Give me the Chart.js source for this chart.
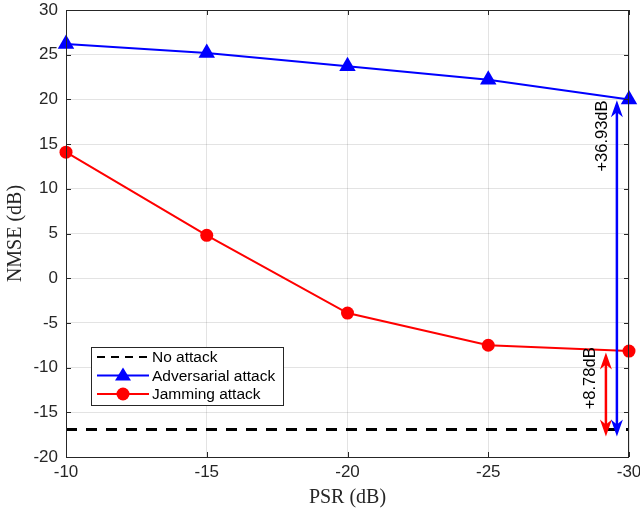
<!DOCTYPE html>
<html>
<head>
<meta charset="utf-8">
<script src="https://cdn.jsdelivr.net/npm/chart.js@4.4.1/dist/chart.umd.min.js"></script>
<style>
  html, body { margin: 0; padding: 0; background: #fff; }
  #wrap { width: 640px; height: 514px; }
</style>
</head>
<body>
<div id="wrap"><canvas id="nmseChart" width="640" height="514"></canvas></div>
<script>
// PSR values (dB) on the x axis
const psr = [-10, -15, -20, -25, -30];
const adversarial = [26.2, 25.2, 23.7, 22.2, 20.0];
const jamming = [14.1, 4.8, -3.9, -7.5, -8.15];
const noAttack = -16.93;

// gap arrows: [x, yTop, yBottom]
const blueGap = [-29.57, 19.9, -17.7];
const redGap = [-29.18, -8.3, -17.7];
// gap labels: [x, y, text]
const blueLabel = [-29.05, 15.9, '+36.93dB'];
const redLabel = [-28.62, -11.2, '+8.78dB'];

const axisColor = '#262626';
const sans = "'Liberation Sans', Arial, sans-serif";
const serif = "'Liberation Serif', 'Times New Roman', serif";

function arrowHead(ctx, x, y, dir, color) {
  // dir = -1 pointing up, 1 pointing down
  ctx.save();
  ctx.fillStyle = color;
  ctx.beginPath();
  ctx.moveTo(x, y);
  ctx.lineTo(x - 6, y - dir * 17);
  ctx.lineTo(x, y - dir * 12);
  ctx.lineTo(x + 6, y - dir * 17);
  ctx.closePath();
  ctx.fill();
  ctx.restore();
}

function doubleArrow(ctx, xs, ys, gap, color) {
  const x = xs.getPixelForValue(gap[0]);
  const y1 = ys.getPixelForValue(gap[1]);
  const y2 = ys.getPixelForValue(gap[2]);
  ctx.save();
  ctx.strokeStyle = color;
  ctx.lineWidth = 2.5;
  ctx.beginPath();
  ctx.moveTo(x, y1 + 10);
  ctx.lineTo(x, y2 - 10);
  ctx.stroke();
  ctx.restore();
  arrowHead(ctx, x, y1, -1, color);
  arrowHead(ctx, x, y2, 1, color);
}

function rotLabel(ctx, xs, ys, lab) {
  ctx.save();
  ctx.translate(xs.getPixelForValue(lab[0]), ys.getPixelForValue(lab[1]));
  ctx.rotate(-Math.PI / 2);
  ctx.font = '16.5px ' + sans;
  ctx.fillStyle = '#000';
  ctx.textAlign = 'center';
  ctx.textBaseline = 'middle';
  ctx.fillText(lab[2], 0, 0);
  ctx.restore();
}

const extras = {
  id: 'extras',
  afterDatasetsDraw(chart) {
    const ctx = chart.ctx;
    const xs = chart.scales.x, ys = chart.scales.y;
    const a = chart.chartArea;

    doubleArrow(ctx, xs, ys, redGap, '#ff0000');
    doubleArrow(ctx, xs, ys, blueGap, '#0000ff');
    rotLabel(ctx, xs, ys, blueLabel);
    rotLabel(ctx, xs, ys, redLabel);

    // box + inward ticks
    ctx.save();
    ctx.strokeStyle = axisColor;
    ctx.lineWidth = 1;
    ctx.strokeRect(a.left + 0.5, a.top + 0.5, a.right - a.left - 1, a.bottom - a.top);
    ctx.beginPath();
    xs.ticks.forEach(t => {
      const px = Math.round(xs.getPixelForValue(t.value)) + 0.5;
      ctx.moveTo(px, a.bottom); ctx.lineTo(px, a.bottom - 5);
      ctx.moveTo(px, a.top); ctx.lineTo(px, a.top + 5);
    });
    ys.ticks.forEach(t => {
      const py = Math.round(ys.getPixelForValue(t.value)) + 0.5;
      ctx.moveTo(a.left, py); ctx.lineTo(a.left + 5, py);
      ctx.moveTo(a.right, py); ctx.lineTo(a.right - 5, py);
    });
    ctx.stroke();
    ctx.restore();

    // legend
    const lx = a.left + 25, ly = a.top + 337, lw = 192, lh = 58;
    ctx.save();
    ctx.fillStyle = '#fff';
    ctx.fillRect(lx, ly, lw, lh);
    ctx.strokeStyle = axisColor;
    ctx.lineWidth = 1;
    ctx.strokeRect(lx + 0.5, ly + 0.5, lw, lh);
    const rows = [
      { text: 'No attack', color: '#000', dash: [8, 6], mark: null },
      { text: 'Adversarial attack', color: '#0000ff', dash: [], mark: 'tri' },
      { text: 'Jamming attack', color: '#ff0000', dash: [], mark: 'dot' }
    ];
    rows.forEach((r, i) => {
      const y = ly + 10 + i * 18.5;
      ctx.strokeStyle = r.color;
      ctx.lineWidth = 2;
      ctx.setLineDash(r.dash);
      ctx.beginPath();
      ctx.moveTo(lx + 6, y); ctx.lineTo(lx + 58, y);
      ctx.stroke();
      ctx.setLineDash([]);
      ctx.fillStyle = r.color;
      const cx = lx + 32;
      if (r.mark === 'tri') {
        ctx.beginPath();
        ctx.moveTo(cx, y - 8); ctx.lineTo(cx + 8, y + 5); ctx.lineTo(cx - 8, y + 5);
        ctx.closePath(); ctx.fill();
      } else if (r.mark === 'dot') {
        ctx.beginPath(); ctx.arc(cx, y, 6.5, 0, Math.PI * 2); ctx.fill();
      }
      ctx.fillStyle = '#000';
      ctx.font = '15.5px ' + sans;
      ctx.textBaseline = 'middle';
      ctx.textAlign = 'left';
      ctx.fillText(r.text, lx + 61, y + 1);
    });
    ctx.restore();
  }
};

new Chart(document.getElementById('nmseChart'), {
  type: 'line',
  data: {
    datasets: [
      {
        label: 'No attack',
        data: [{ x: -10, y: noAttack }, { x: -30, y: noAttack }],
        borderColor: '#000',
        borderWidth: 3,
        borderDash: [11, 9],
        pointRadius: 0
      },
      {
        label: 'Adversarial attack',
        data: psr.map((x, i) => ({ x: x, y: adversarial[i] })),
        borderColor: '#0000ff',
        backgroundColor: '#0000ff',
        borderWidth: 2,
        pointStyle: 'triangle',
        pointRadius: 9.5,
        pointBorderWidth: 0,
        clip: false
      },
      {
        label: 'Jamming attack',
        data: psr.map((x, i) => ({ x: x, y: jamming[i] })),
        borderColor: '#ff0000',
        backgroundColor: '#ff0000',
        borderWidth: 2,
        pointStyle: 'circle',
        pointRadius: 6.5,
        pointBorderWidth: 0,
        clip: false
      }
    ]
  },
  options: {
    responsive: false,
    animation: false,
    layout: { padding: { left: 0, right: 11, top: 10, bottom: 0 } },
    plugins: { legend: { display: false }, tooltip: { enabled: false } },
    scales: {
      x: {
        type: 'linear',
        reverse: true,
        min: -30,
        max: -10,
        afterFit: s => { s.height = 57; s.paddingLeft = 0; s.paddingRight = 0; },
        ticks: { stepSize: 5, color: axisColor, font: { family: sans, size: 17 }, padding: 5 },
        grid: { color: 'rgba(38,38,38,0.13)', tickLength: 0 },
        border: { display: false },
        title: { display: true, text: 'PSR (dB)', color: axisColor, font: { family: serif, size: 20 }, padding: { top: 0 } }
      },
      y: {
        min: -20,
        max: 30,
        afterFit: s => { s.width = 66; s.paddingTop = 0; s.paddingBottom = 0; },
        ticks: { stepSize: 5, color: axisColor, font: { family: sans, size: 17 }, padding: 8 },
        grid: { color: 'rgba(38,38,38,0.13)', tickLength: 0 },
        border: { display: false },
        title: { display: true, text: 'NMSE (dB)', color: axisColor, font: { family: serif, size: 20 }, padding: { bottom: 0 } }
      }
    }
  },
  plugins: [extras]
});
</script>
</body>
</html>
